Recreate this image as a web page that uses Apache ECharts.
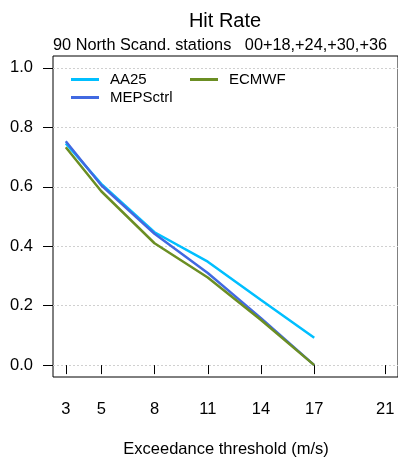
<!DOCTYPE html>
<html>
<head>
<meta charset="utf-8">
<script src="https://cdn.jsdelivr.net/npm/echarts@6/dist/echarts.min.js"></script>
<style>
html,body{margin:0;padding:0;background:#fff;}
#chart{width:398px;height:462px;}
</style>
</head>
<body>
<div id="chart"></div>
<script>
// Data
var thresholds = [3, 5, 8, 11, 14, 17];
var xTicks = [3, 5, 8, 11, 14, 17, 21];
var yTicks = [0, 0.2, 0.4, 0.6, 0.8, 1.0];
var seriesNames = ['AA25', 'MEPSctrl', 'ECMWF'];
var aa25 = [0.746, 0.610, 0.447, 0.348, 0.219, 0.092];
var mepsctrl = [0.753, 0.605, 0.442, 0.310, 0.158, 0.0];
var ecmwf = [0.733, 0.585, 0.410, 0.295, 0.152, 0.0];
var titleText = 'Hit Rate';
var subtitleText = '90 North Scand. stations   00+18,+24,+30,+36';
var xName = 'Exceedance threshold (m/s)';

var FONT = "'Liberation Sans', Arial, Helvetica, sans-serif";
var colors = ['#00BFFF', '#4169E1', '#6B8E23'];
var values = [aa25, mepsctrl, ecmwf];

function pairs(xs, ys) { return xs.map(function (x, i) { return [x, ys[i]]; }); }

var series = seriesNames.map(function (name, i) {
  return {
    name: name,
    type: 'line',
    data: pairs(thresholds, values[i]),
    symbol: 'none',
    smooth: false,
    lineStyle: { color: colors[i], width: 2.5 },
    itemStyle: { color: colors[i] },
    z: 3 + i,
    animation: false
  };
});

var chart = echarts.init(document.getElementById('chart'), null, { renderer: 'canvas' });
chart.setOption({
  backgroundColor: '#fff',
  animation: false,
  textStyle: { fontFamily: FONT },
  grid: {
    left: 53, top: 56, width: 346, height: 321,
    show: true, borderColor: '#000', borderWidth: 1, backgroundColor: 'transparent'
  },
  xAxis: {
    type: 'value', min: 2.28, max: 21.72,
    axisLine: { show: false },
    axisTick: { show: true, length: 9, customValues: xTicks, lineStyle: { color: '#000', width: 1 } },
    axisLabel: { customValues: xTicks, margin: 24, color: '#000', fontSize: 16.5, fontFamily: FONT },
    splitLine: { show: false }
  },
  yAxis: {
    type: 'value', min: -0.04, max: 1.04,
    axisLine: { show: false },
    axisTick: { show: true, length: 10, customValues: yTicks, lineStyle: { color: '#000', width: 1 } },
    axisLabel: { customValues: yTicks, margin: 20, color: '#000', fontSize: 16.5, fontFamily: FONT,
      formatter: function (v) { return v.toFixed(1); } },
    splitLine: { show: true, lineStyle: { color: '#d0d0d0', type: [2, 2], width: 1 } }
  },
  legend: [
    {
      data: ['AA25', 'MEPSctrl'], orient: 'vertical', left: 66, top: 67,
      icon: 'rect', itemWidth: 28, itemHeight: 3, itemGap: 3,
      textStyle: { fontSize: 15, color: '#000', fontFamily: FONT, lineHeight: 15, padding: [0, 0, 0, 6] },
      selectedMode: false
    },
    {
      data: ['ECMWF'], orient: 'vertical', left: 185, top: 67,
      icon: 'rect', itemWidth: 28, itemHeight: 3, itemGap: 3,
      textStyle: { fontSize: 15, color: '#000', fontFamily: FONT, lineHeight: 15, padding: [0, 0, 0, 6] },
      selectedMode: false
    }
  ],
  graphic: [
    { type: 'text', style: { text: titleText, x: 225, y: 21, textAlign: 'center', textVerticalAlign: 'middle',
      fontSize: 20, fontFamily: FONT, fill: '#000' } },
    { type: 'text', style: { text: subtitleText, x: 53, y: 46, textAlign: 'left', textVerticalAlign: 'middle',
      fontSize: 16.3, fontFamily: FONT, fill: '#000' } },
    { type: 'text', style: { text: xName, x: 226, y: 449, textAlign: 'center', textVerticalAlign: 'middle',
      fontSize: 16.5, fontFamily: FONT, fill: '#000' } }
  ],
  series: series
});
</script>
</body>
</html>
